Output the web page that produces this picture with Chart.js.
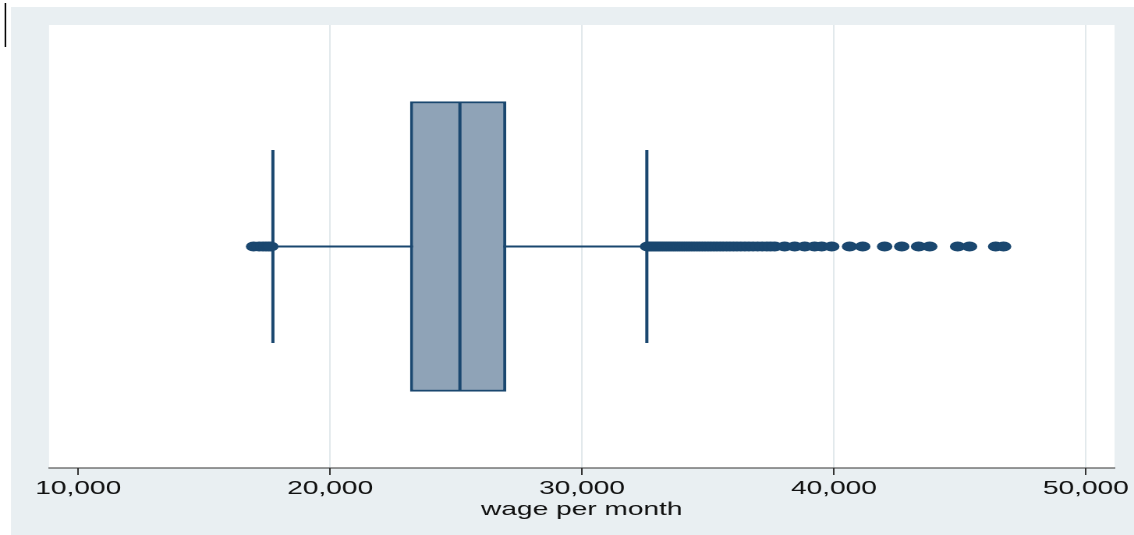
<!DOCTYPE html>
<html>
<head>
<meta charset="utf-8">
<script src="https://cdn.jsdelivr.net/npm/chart.js@4/dist/chart.umd.min.js"></script>
<style>
  html, body { margin: 0; padding: 0; overflow: hidden; background: #ffffff; }
  #wrap { width: 727px; height: 535px; transform: scaleX(1.559835); transform-origin: 0 0; }
</style>
</head>
<body>
<div id="wrap"><canvas id="c" width="727" height="535"></canvas></div>
<script>
// Monthly wage distribution: box summary, whiskers and outlying observations
const categories = ['wage per month'];
const lowerWhisker = 17726;
const q1 = 23170;
const median = 25150;
const q3 = 26990;
const upperWhisker = 32570;

const lowOutliers = [16960, 17180, 17330, 17450, 17560, 17640];
const highOutliers = [
  32600, 32640, 32700, 32760, 32830, 32900, 32970, 33050, 33120, 33200,
  33280, 33360, 33450, 33530, 33620, 33700, 33790, 33880, 33970, 34060,
  34160, 34250, 34350, 34450, 34560, 34660, 34770, 34880, 35000, 35110,
  35230, 35350, 35480, 35600, 35740, 35870, 36010, 36150, 36300, 36460,
  36620, 36790, 36970, 37150, 37330, 37480, 37645, 38040, 38440, 38840,
  39230, 39510, 39910, 40620, 41140, 42010, 42690, 43360, 43800, 44910,
  45380, 46420, 46730
];

const tickValues = [10000, 20000, 30000, 40000, 50000];
const axisMin = 8837;
const axisMax = 51138;

const navy = '#1a476f';
const boxFill = '#8fa3b7';
const panelColor = '#e9eff2';
const gridColor = '#e2e9ec';
const textColor = '#111111';
const hScale = 1134 / 727;

const cat = categories[0];
const pts = vals => vals.map(v => ({ x: v, y: cat }));

const framePlugin = {
  id: 'frame',
  beforeDraw(chart) {
    const { ctx, width, height, chartArea } = chart;
    ctx.save();
    ctx.fillStyle = '#ffffff';
    ctx.fillRect(0, 0, width, height);
    ctx.fillStyle = panelColor;
    ctx.fillRect(11 / hScale, 7, width, height);
    ctx.fillStyle = '#ffffff';
    ctx.fillRect(chartArea.left, chartArea.top, chartArea.right - chartArea.left, chartArea.bottom - chartArea.top);
    ctx.fillStyle = '#000000';
    ctx.fillRect(4.6 / hScale, 3, 1.6 / hScale, 44);
    ctx.restore();
  }
};

new Chart(document.getElementById('c'), {
  type: 'bar',
  data: {
    labels: categories,
    datasets: [
      {
        type: 'scatter',
        data: pts(lowOutliers.concat(highOutliers)),
        pointStyle: 'circle',
        pointRadius: 5,
        pointBackgroundColor: navy,
        pointBorderWidth: 0,
        order: 0
      },
      {
        type: 'scatter',
        data: pts([median]),
        pointStyle: 'line',
        rotation: 90,
        pointRadius: 144,
        pointBorderColor: navy,
        pointBorderWidth: 2,
        order: 1
      },
      {
        data: [[q1, q3]],
        backgroundColor: boxFill,
        borderColor: navy,
        borderWidth: 2,
        borderSkipped: false,
        order: 2
      },
      {
        type: 'scatter',
        data: pts([lowerWhisker, upperWhisker]),
        pointStyle: 'line',
        rotation: 90,
        pointRadius: 96.5,
        pointBorderColor: navy,
        pointBorderWidth: 2,
        order: 3
      },
      {
        type: 'line',
        data: pts([lowerWhisker, upperWhisker]),
        borderColor: navy,
        borderWidth: 2,
        pointRadius: 0,
        order: 4
      }
    ]
  },
  options: {
    indexAxis: 'y',
    responsive: false,
    devicePixelRatio: 2,
    animation: false,
    events: [],
    layout: { autoPadding: false, padding: { left: 31.4, right: 12.2, top: 25, bottom: 0 } },
    datasets: {
      bar: { grouped: false, barPercentage: 0.655, categoryPercentage: 1 }
    },
    plugins: { legend: { display: false }, tooltip: { enabled: false } },
    scales: {
      y: { type: 'category', display: false, grid: { display: false } },
      x: {
        type: 'linear',
        position: 'bottom',
        min: axisMin,
        max: axisMax,
        afterBuildTicks: s => { s.ticks = tickValues.map(v => ({ value: v })); },
        afterFit: s => { s.height = 67; },
        grid: {
          color: c => (c.tick && c.tick.value === tickValues[0]) ? 'rgba(0,0,0,0)' : gridColor,
          lineWidth: 1,
          tickColor: '#333333',
          tickLength: 7,
          tickWidth: 1
        },
        border: { display: true, color: '#333333', width: 1 },
        ticks: {
          autoSkip: false,
          maxRotation: 0,
          padding: 3,
          color: textColor,
          font: { family: 'Liberation Sans, Arial, sans-serif', size: 18 },
          callback: v => Number(v).toLocaleString('en-US')
        },
        title: {
          display: true,
          text: 'wage per month',
          color: textColor,
          font: { family: 'Liberation Sans, Arial, sans-serif', size: 18 },
          padding: { top: 0, bottom: 14 }
        }
      }
    }
  },
  plugins: [framePlugin]
});
</script>
</body>
</html>
